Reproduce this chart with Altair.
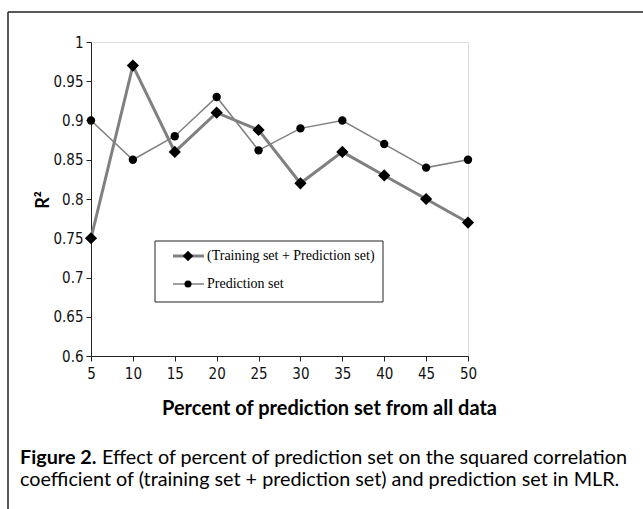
import altair as alt
import pandas as pd

# Percent of the data held out as prediction set
percent = [5, 10, 15, 20, 25, 30, 35, 40, 45, 50]
# R² of (training set + prediction set)
r2_total = [0.75, 0.97, 0.86, 0.91, 0.888, 0.82, 0.86, 0.83, 0.80, 0.77]
# R² of the prediction set
r2_pred = [0.90, 0.85, 0.88, 0.93, 0.862, 0.89, 0.90, 0.87, 0.84, 0.85]

y_ticks = [0.6, 0.65, 0.7, 0.75, 0.8, 0.85, 0.9, 0.95, 1.0]
x_ticks = percent

series_total = "(Training set + Prediction set)"
series_pred = "Prediction set"

x_title = "Percent of prediction set from all data"
y_title = "R²"
caption_bold = "Figure 2."
caption_line1 = "Effect of percent of prediction set on the squared correlation"
caption_line2 = "coefficient of (training set + prediction set) and prediction set in MLR."

W, H = 377, 314
PAD_L, PAD_T = 91, 42
TOTAL_W, TOTAL_H = 643, 509

TICK_FONT = "DejaVu Sans Condensed, sans-serif"
TEXT_FONT = "Lato, Open Sans, sans-serif"
SERIF = "Liberation Serif, Times New Roman, serif"
GRAY = "#808080"

df_total = pd.DataFrame({"pct": percent, "r2": r2_total})
df_pred = pd.DataFrame({"pct": percent, "r2": r2_pred})
one = pd.DataFrame({"k": [0]})

x_enc = alt.X(
    "pct:Q",
    scale=alt.Scale(domain=[5, 50], nice=False, zero=False),
    axis=alt.Axis(values=x_ticks, title=None, grid=False, format="d",
                  labelFont=TICK_FONT, labelFontSize=15, labelColor="#111",
                  labelPadding=5, tickSize=5, tickColor="#222",
                  domainColor="#222", labelFlush=False),
)
y_enc = alt.Y(
    "r2:Q",
    scale=alt.Scale(domain=[0.6, 1.0], nice=False, zero=False),
    axis=alt.Axis(values=y_ticks, title=None, grid=False, format=".2~f",
                  labelFont=TICK_FONT, labelFontSize=15, labelColor="#111",
                  labelPadding=3, tickSize=5, tickColor="#222",
                  domainColor="#222", labelFlush=False),
)

line_pred = alt.Chart(df_pred).mark_line(color=GRAY, strokeWidth=1.5).encode(x=x_enc, y=y_enc)
pts_pred = alt.Chart(df_pred).mark_point(shape="circle", filled=True, color="black",
                                         opacity=1, size=70).encode(x=x_enc, y=y_enc)
line_total = alt.Chart(df_total).mark_line(color=GRAY, strokeWidth=3).encode(x=x_enc, y=y_enc)
pts_total = alt.Chart(df_total).mark_point(shape="diamond", filled=True, color="black",
                                           opacity=1, size=150).encode(x=x_enc, y=y_enc)


def px(v):
    return alt.value(v - PAD_L)


def py(v):
    return alt.value(v - PAD_T)


# Outer frame (top and left edges)
frame_top = alt.Chart(one).mark_rule(color="#222", strokeWidth=1.5).encode(
    x=px(8), x2=px(660), y=py(12))
frame_left = alt.Chart(one).mark_rule(color="#222", strokeWidth=1.5).encode(
    x=px(8), y=py(12), y2=py(520))

# Legend box
legend_box = alt.Chart(one).mark_rect(fill="white", stroke="#222", strokeWidth=1).encode(
    x=px(155), x2=px(383), y=py(241), y2=py(302))
leg_line1 = alt.Chart(one).mark_rule(color=GRAY, strokeWidth=3).encode(
    x=px(173), x2=px(204), y=py(256))
leg_pt1 = alt.Chart(one).mark_point(shape="diamond", filled=True, color="black",
                                    opacity=1, size=110).encode(x=px(188), y=py(256))
leg_txt1 = alt.Chart(one).mark_text(text=series_total, font=SERIF, fontSize=14,
                                    align="left", baseline="middle", color="black").encode(
    x=px(207), y=py(256))
leg_line2 = alt.Chart(one).mark_rule(color=GRAY, strokeWidth=1.5).encode(
    x=px(173), x2=px(204), y=py(284))
leg_pt2 = alt.Chart(one).mark_point(shape="circle", filled=True, color="black",
                                    opacity=1, size=50).encode(x=px(188), y=py(284))
leg_txt2 = alt.Chart(one).mark_text(text=series_pred, font=SERIF, fontSize=14,
                                    align="left", baseline="middle", color="black").encode(
    x=px(207), y=py(284))

# Axis titles
xt = alt.Chart(one).mark_text(text=x_title, font=TEXT_FONT, fontSize=20, fontWeight="bold",
                              align="left", baseline="alphabetic", color="black").encode(
    x=px(162), y=py(415))
yt = alt.Chart(one).mark_text(text=y_title, font=TEXT_FONT, fontSize=18, fontWeight="bold",
                              angle=270, align="center", baseline="middle", color="black").encode(
    x=px(44), y=py(200))

# Figure caption
cap_b = alt.Chart(one).mark_text(text=caption_bold, font=TEXT_FONT, fontSize=19.8,
                                 fontWeight="bold", align="left", baseline="alphabetic",
                                 color="black").encode(x=px(20), y=py(464))
cap_1 = alt.Chart(one).mark_text(text=caption_line1, font=TEXT_FONT, fontSize=19.8,
                                 align="left", baseline="alphabetic", color="black").encode(
    x=px(102), y=py(464))
cap_2 = alt.Chart(one).mark_text(text=caption_line2, font=TEXT_FONT, fontSize=19.8,
                                 align="left", baseline="alphabetic", color="black").encode(
    x=px(20), y=py(486))

chart = alt.layer(
    line_pred, line_total, pts_pred, pts_total,
    frame_top, frame_left,
    legend_box, leg_line1, leg_pt1, leg_txt1, leg_line2, leg_pt2, leg_txt2,
    xt, yt, cap_b, cap_1, cap_2,
).properties(
    width=W, height=H,
    autosize=alt.AutoSizeParams(type="none"),
    padding={"left": PAD_L, "top": PAD_T,
             "right": TOTAL_W - PAD_L - W, "bottom": TOTAL_H - PAD_T - H},
).configure_view(stroke=None).configure(background="white")

chart.save("out.html", embed_options={"renderer": "svg", "actions": False})
